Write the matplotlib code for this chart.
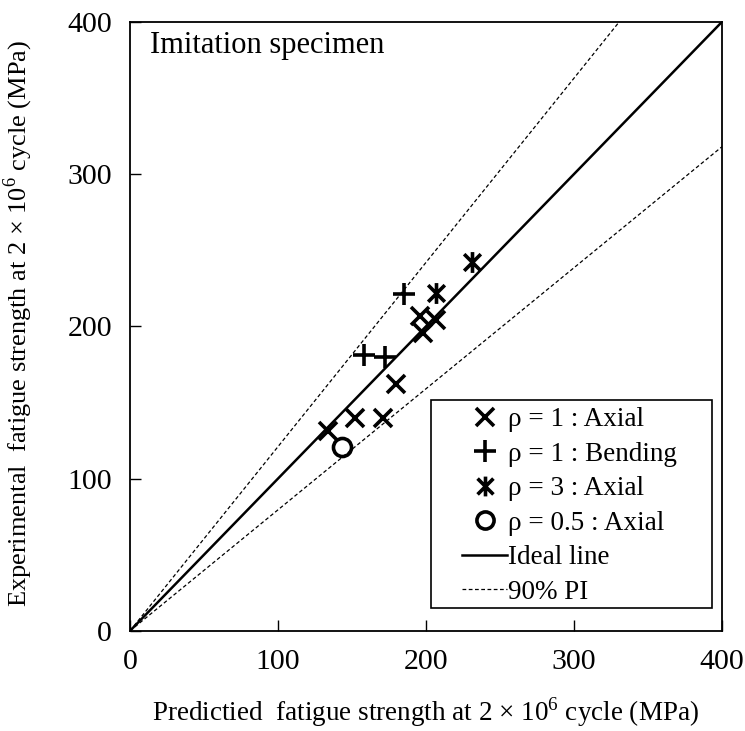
import matplotlib
matplotlib.use("Agg")
import matplotlib.pyplot as plt
import numpy as np
from matplotlib.path import Path
from matplotlib.patches import Rectangle

plt.rcParams['font.family'] = ['Liberation Serif', 'DejaVu Serif']
plt.rcParams['mathtext.fontset'] = 'custom'
plt.rcParams['mathtext.rm'] = 'Liberation Serif'

# Predicted vs. experimental fatigue strength (MPa)
axial1_pred = [134, 152, 171, 180, 196, 198, 207]
axial1_exp = [131, 140, 140, 162, 207, 195.5, 204]
bend1_pred = [158, 172, 185]
bend1_exp = [181, 180, 221]
axial3_pred = [207, 231]
axial3_exp = [222, 242]
axial05_pred = [143]
axial05_exp = [121]

limits = [0, 400]
ticks = [0, 100, 200, 300, 400]
pi_upper = 1.21
pi_lower = 0.795

# asterisk marker: vertical stroke plus an x
ast = Path([(0, -1), (0, 1), (-0.8, -0.8), (0.8, 0.8), (-0.8, 0.8), (0.8, -0.8)],
           [Path.MOVETO, Path.LINETO, Path.MOVETO, Path.LINETO, Path.MOVETO, Path.LINETO])

fig = plt.figure(figsize=(7.45, 7.31), dpi=100)
ax = fig.add_axes([0.1745, 0.137, 0.7945, 0.833])

ms, mew = 13, 2.6
ax.plot(axial1_pred, axial1_exp, ls='none', marker='x', ms=ms, mew=mew, color='black',
        label='ρ = 1 : Axial')
ax.plot(bend1_pred, bend1_exp, ls='none', marker='+', ms=ms + 3, mew=mew, color='black',
        label='ρ = 1 : Bending')
ax.plot(axial3_pred, axial3_exp, ls='none', marker=ast, ms=ms + 2, mew=mew, color='black',
        label='ρ = 3 : Axial')
ax.plot(axial05_pred, axial05_exp, ls='none', marker='o', ms=ms, mew=mew, mfc='white',
        color='black', label='ρ = 0.5 : Axial')

xs = np.array(limits, dtype=float)
ax.plot(xs, xs, color='black', lw=1.8, label='Ideal line')
ax.plot(xs, pi_upper * xs, color='black', lw=0.9, ls=(0, (3, 2)), label='90% PI')
ax.plot(xs, pi_lower * xs, color='black', lw=0.9, ls=(0, (3, 2)))

ax.set_xlim(limits)
ax.set_ylim(limits)
ax.set_xticks(ticks)
ax.set_yticks(ticks)
ax.tick_params(direction='in', length=8, width=1, labelsize=21.5, pad=13)
for s in ax.spines.values():
    s.set_linewidth(1.3)

ax.set_xlabel('Predictied  fatigue strength at 2 × 10$^6$ cycle (MPa)', fontsize=19.5)
ax.set_ylabel('Experimental  fatigue strength at 2 × 10$^6$ cycle (MPa)', fontsize=19)
ax.xaxis.set_label_coords(0.5, -0.105)
ax.yaxis.set_label_coords(-0.16, 0.505)

ax.text(0.034, 0.949, 'Imitation specimen', transform=ax.transAxes, fontsize=22,
        ha='left', va='baseline')

# legend box
ax.add_patch(Rectangle((0.5084, 0.0378), 0.983 - 0.5084, 0.379 - 0.0378,
                       transform=ax.transAxes, facecolor='white', edgecolor='black',
                       lw=1.2, zorder=4))
leg = ax.legend(loc='upper left', bbox_to_anchor=(0.561, 0.367), fontsize=19.5,
                frameon=False, handlelength=1.66, handletextpad=0.05,
                labelspacing=0.35, borderpad=0, borderaxespad=0, markerscale=0.95)
leg.set_zorder(5)

fig.savefig('out.png', dpi=100)
